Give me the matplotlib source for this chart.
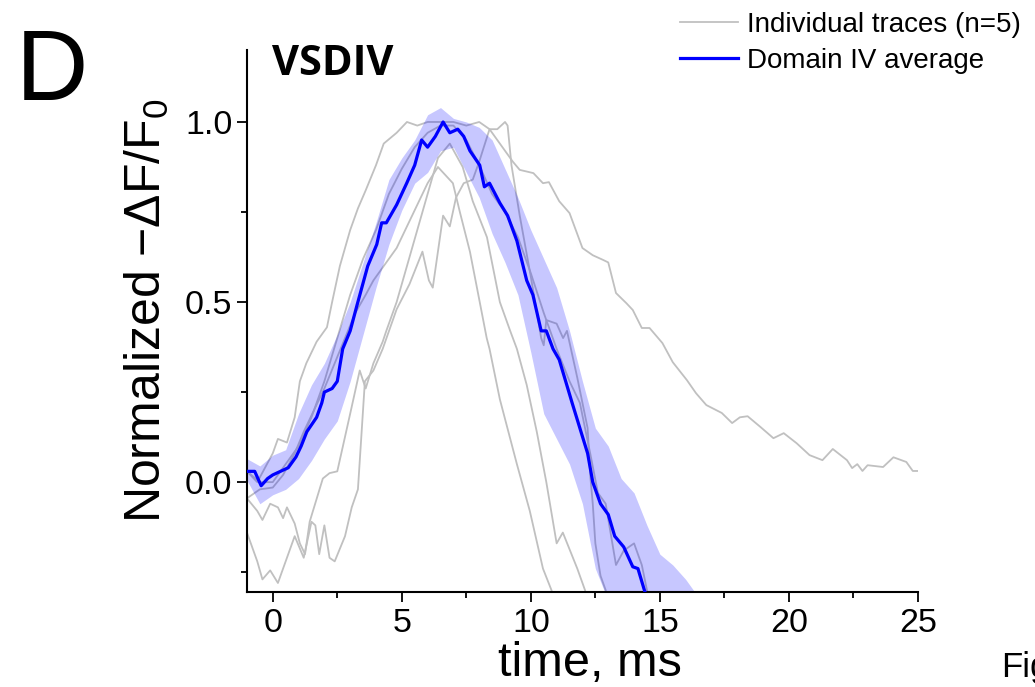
import matplotlib
matplotlib.use("Agg")
import matplotlib.pyplot as plt
import numpy as np

plt.rcParams['font.family'] = ['Liberation Sans', 'DejaVu Sans']
plt.rcParams['mathtext.fontset'] = 'custom'
plt.rcParams['mathtext.rm'] = 'Liberation Sans'
plt.rcParams['mathtext.default'] = 'regular'

# individual traces (time in ms, normalized -dF/F0)
t_a = [-1, -0.6, -0.3, 0, 0.2, 0.55, 0.85, 1.05, 1.3, 1.7, 2.1, 2.3, 2.6, 3.0, 3.3, 3.6, 4.0, 4.3, 4.8,
       5.2, 5.6, 6.0, 6.5, 7.0, 7.5, 8.0, 8.4, 8.8, 9.3, 9.57, 10.1, 10.47, 10.7, 11.1, 11.5, 12.0, 12.4,
       12.8, 13.0, 13.3, 13.7, 13.95, 14.3, 14.6, 15.1, 15.5, 16.05, 16.4, 16.8, 17.4, 17.8, 18.1, 18.4,
       18.9, 19.4, 19.8, 20.3, 20.8, 21.3, 21.7, 22.25, 22.45, 22.65, 22.85, 23.05, 23.65, 24.05, 24.55,
       24.8, 25.0]
v_a = [0.03, 0.0, 0.04, 0.08, 0.12, 0.11, 0.18, 0.28, 0.33, 0.39, 0.43, 0.5, 0.6, 0.7, 0.76, 0.81, 0.88,
       0.94, 0.97, 1.0, 0.99, 1.0, 1.0, 1.0, 0.99, 1.0, 0.98, 0.94, 0.89, 0.867, 0.858, 0.83, 0.833, 0.78,
       0.747, 0.65, 0.63, 0.617, 0.61, 0.525, 0.497, 0.478, 0.428, 0.428, 0.386, 0.333, 0.283, 0.247,
       0.214, 0.192, 0.164, 0.18, 0.183, 0.153, 0.122, 0.136, 0.108, 0.075, 0.061, 0.092, 0.061, 0.039,
       0.05, 0.031, 0.047, 0.042, 0.069, 0.056, 0.031, 0.031]

t_b = [-1, -0.6, -0.4, -0.1, 0.2, 0.5, 0.85, 1.2, 1.5, 1.65, 1.8, 2.0, 2.2, 2.4, 2.8, 3.06, 3.3, 3.57,
       3.9, 4.26, 4.8, 5.3, 5.8, 6.05, 6.2, 6.6, 6.86, 7.1, 7.4, 7.75, 8.0, 8.4, 8.7, 9.0, 9.1, 9.25, 9.57,
       10.0, 10.4, 10.5, 10.6, 11.0, 11.25, 11.4, 11.8, 12.2, 12.3, 12.4, 12.5, 12.7, 12.9, 13.1]
v_b = [-0.14, -0.22, -0.27, -0.245, -0.28, -0.22, -0.15, -0.21, -0.11, -0.12, -0.2, -0.12, -0.21, -0.22,
       -0.15, -0.07, -0.02, 0.28, 0.31, 0.37, 0.48, 0.55, 0.64, 0.56, 0.54, 0.74, 0.71, 0.79, 0.83, 0.84,
       0.89, 0.98, 0.98, 1.0, 0.99, 0.88, 0.74, 0.57, 0.40, 0.38, 0.45, 0.44, 0.40, 0.42, 0.29, 0.15, 0.02,
       -0.06, -0.17, -0.26, -0.3, -0.36]

t_c = [-1, -0.5, 0, 0.5, 1.0, 1.5, 2.0, 2.5, 3.0, 3.5, 4.0, 4.5, 5.0, 5.5, 6.0, 6.5, 7.0, 7.5, 8.0, 8.5,
       9.0, 9.5, 10.0, 10.5, 11.0, 11.5, 11.9, 12.3, 12.6, 12.9, 13.3, 13.6, 14.0, 14.3, 14.5, 14.7]
v_c = [0.03, 0.0, 0.0, 0.05, 0.1, 0.18, 0.28, 0.4, 0.52, 0.62, 0.7, 0.8, 0.87, 0.93, 0.97, 0.99, 0.99,
       0.95, 0.88, 0.8, 0.75, 0.68, 0.58, 0.47, 0.37, 0.28, 0.22, 0.08, -0.03, -0.06, -0.23, -0.19, -0.17,
       -0.23, -0.3, -0.36]

t_d = [-1, -0.5, 0, 0.4, 0.85, 1.2, 1.6, 2.0, 2.4, 2.8, 3.2, 3.6, 3.9, 4.3, 4.8, 5.4, 6.0, 6.4, 6.98,
       7.25, 7.64, 8.02, 8.29, 8.4, 8.8, 9.46, 9.96, 10.47, 10.8, 11.0]
v_d = [-0.045, -0.02, -0.015, 0.02, 0.08, 0.14, 0.2, 0.26, 0.33, 0.4, 0.47, 0.52, 0.56, 0.6, 0.65, 0.74,
       0.83, 0.875, 0.83, 0.75, 0.64, 0.5, 0.4, 0.37, 0.23, 0.05, -0.08, -0.24, -0.3, -0.35]

t_e = [-1, -0.6, -0.4, -0.1, 0.2, 0.4, 0.55, 0.85, 1.05, 1.25, 1.43, 1.94, 2.2, 2.5, 3.0, 3.37, 3.6, 3.9,
       4.26, 4.4, 4.8, 5.2, 5.6, 6.0, 6.4, 6.86, 7.36, 7.75, 8.3, 8.8, 9.2, 9.46, 9.84, 10.23, 10.6, 11.0,
       11.24, 11.8, 12.1, 12.3]
v_e = [-0.045, -0.08, -0.105, -0.06, -0.07, -0.1, -0.07, -0.115, -0.17, -0.2, -0.11, 0.01, 0.025, 0.03,
       0.19, 0.31, 0.26, 0.33, 0.39, 0.42, 0.5, 0.6, 0.7, 0.8, 0.9, 0.94, 0.875, 0.78, 0.68, 0.5, 0.42,
       0.37, 0.27, 0.14, 0.0, -0.17, -0.14, -0.24, -0.3, -0.35]

# domain IV average
t_avg = [-1, -0.7, -0.45, -0.2, 0, 0.3, 0.6, 0.9, 1.1, 1.32, 1.7, 1.9, 2.0, 2.3, 2.5, 2.71, 3.0, 3.26,
         3.68, 4.03, 4.22, 4.4, 4.8, 5.19, 5.5, 5.77, 6.0, 6.3, 6.6, 6.86, 7.17, 7.4, 7.64, 8.02, 8.2, 8.4,
         8.8, 9.1, 9.46, 9.84, 10.08, 10.4, 10.6, 10.86, 11.1, 11.6, 12.2, 12.4, 12.7, 13.0, 13.25, 13.6,
         13.95, 14.15, 14.4, 14.6]
v_avg = [0.03, 0.03, -0.01, 0.01, 0.02, 0.03, 0.04, 0.07, 0.1, 0.14, 0.18, 0.22, 0.25, 0.26, 0.28, 0.37,
         0.42, 0.49, 0.6, 0.66, 0.72, 0.72, 0.77, 0.83, 0.88, 0.95, 0.93, 0.96, 1.0, 0.97, 0.98, 0.96,
         0.92, 0.88, 0.82, 0.83, 0.775, 0.74, 0.67, 0.56, 0.52, 0.42, 0.42, 0.37, 0.34, 0.22, 0.08, 0.0,
         -0.06, -0.09, -0.15, -0.18, -0.235, -0.24, -0.30, -0.34]

# shaded error band around the average
t_band = [-1, -0.5, 0, 0.5, 1, 1.5, 2, 2.5, 3, 3.5, 4, 4.5, 5, 5.5, 6, 6.5, 7, 7.5, 8, 8.5, 9, 9.5,
          10, 10.5, 11, 11.5, 12, 12.5, 13, 13.5, 14, 14.5, 15, 15.5, 16, 16.5]
band_hi = [0.065, 0.045, 0.075, 0.09, 0.19, 0.27, 0.33, 0.41, 0.5, 0.61, 0.72, 0.84, 0.9, 0.95, 1.02,
           1.04, 1.01, 1.0, 0.985, 0.95, 0.87, 0.79, 0.7, 0.62, 0.54, 0.42, 0.28, 0.15, 0.1, 0.01, -0.03,
           -0.12, -0.2, -0.23, -0.27, -0.32]
band_lo = [0.005, -0.06, -0.035, -0.02, 0.01, 0.06, 0.12, 0.17, 0.28, 0.41, 0.54, 0.66, 0.755, 0.83,
           0.86, 0.92, 0.93, 0.86, 0.79, 0.69, 0.61, 0.52, 0.36, 0.19, 0.12, 0.05, -0.06, -0.24, -0.33,
           -0.4, -0.4, -0.4, -0.4, -0.4, -0.4, -0.4]

traces = [(t_a, v_a), (t_b, v_b), (t_c, v_c), (t_d, v_d), (t_e, v_e)]

fig = plt.figure(figsize=(10.35, 6.87), dpi=100)
ax = fig.add_axes([0.2386, 0.1383, 0.6483, 0.789])

for i, (tt, vv) in enumerate(traces):
    ax.plot(tt, vv, color='#c0c0c0', lw=1.3, zorder=1,
            label='Individual traces (n=5)' if i == 0 else None)
ax.fill_between(t_band, band_lo, band_hi, color='#0000ff', alpha=0.22, lw=0, zorder=2)
ax.plot(t_avg, v_avg, color='#0000ff', lw=2.3, zorder=3, label='Domain IV average')

ax.set_xlim(-1, 25)
ax.set_ylim(-0.305, 1.2)
ax.set_xticks([0, 5, 10, 15, 20, 25])
ax.set_xticks([2.5, 7.5, 12.5, 17.5, 22.5], minor=True)
ax.set_yticks([0.0, 0.5, 1.0])
ax.set_yticklabels(['0.0', '0.5', '1.0'])
ax.set_yticks([-0.25, 0.25, 0.75], minor=True)

for s in ['top', 'right']:
    ax.spines[s].set_visible(False)
for s in ['left', 'bottom']:
    ax.spines[s].set_linewidth(1.5)
ax.tick_params(which='major', length=7.5, width=1.3, labelsize=24.5, pad=4)
ax.tick_params(axis='y', which='major', pad=3)
ax.tick_params(which='minor', length=4, width=1.3)

ax.set_xlabel('time, ms', fontsize=35)
ax.xaxis.set_label_coords(0.511, -0.09)
ax.set_ylabel('Normalized \u2212\u0394F/F$_0$', fontsize=36)
ax.yaxis.set_label_coords(-0.113, 0.52)

ax.text(0.037, 0.954, 'VSDIV', transform=ax.transAxes, fontsize=30,
        fontweight='bold', family='Open Sans', ha='left', va='baseline')

fig.text(0.015, 0.854, 'D', fontsize=72, ha='left', va='baseline')
fig.text(0.967, 0.0146, 'Figure', fontsize=25, ha='left', va='baseline')

fig.legend(loc='upper left', bbox_to_anchor=(0.657, 0.983), frameon=False, fontsize=20,
           handlelength=2.1, handletextpad=0.3, labelspacing=0.36, borderpad=0, borderaxespad=0)

fig.savefig('out.png', dpi=100)
